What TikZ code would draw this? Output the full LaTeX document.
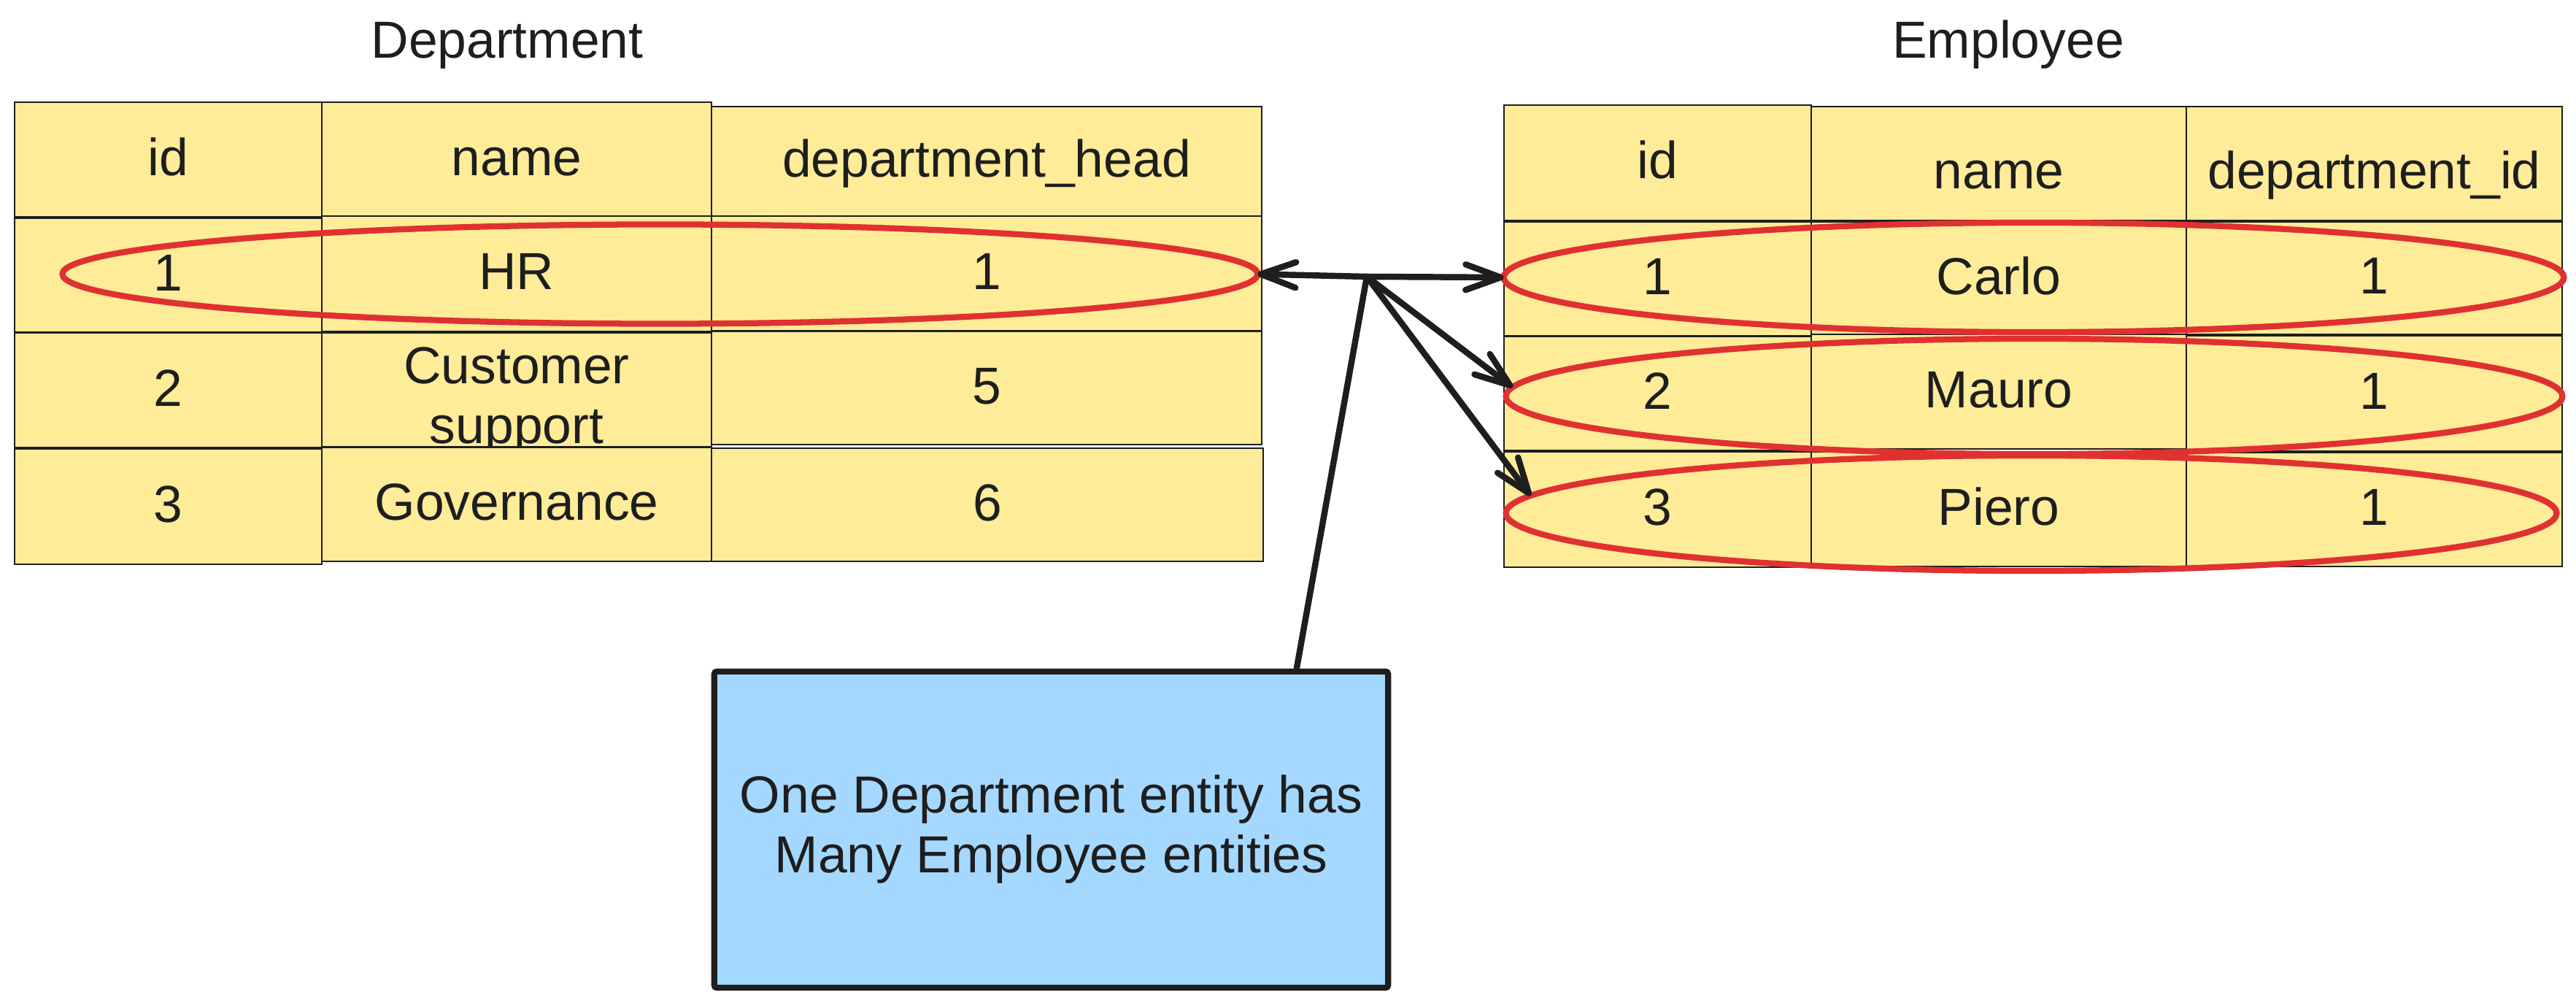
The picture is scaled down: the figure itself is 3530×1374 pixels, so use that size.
\documentclass[tikz,border=0pt]{standalone}
\usepackage{fontspec}
\setmainfont{Liberation Sans}
\usetikzlibrary{shapes.geometric,arrows.meta,calc}
\definecolor{ink}{HTML}{1E1E1E}
\definecolor{cellyellow}{HTML}{FFEC99}
\definecolor{noteblue}{HTML}{A5D8FF}
\definecolor{hlred}{HTML}{E03131}
\newcommand\tcell[7][]{\node[cellbox,#1,minimum width={(#5-#3)*0.01cm},minimum height={(#6-#4)*0.01cm}] (#2) at ({(#3+#5)/2},{(#4+#6)/2}) {#7};}
\tikzset{
  txtfont/.style={font=\fontsize{20.3}{23.3}\selectfont, text=ink},
  cellbox/.style={draw=ink, line width=0.65pt, fill=cellyellow, inner sep=0pt, outer sep=0pt,
    txtfont, text height=16.2pt, text depth=3.8pt},
  lowtext/.style={text height=23.6pt},
  titletext/.style={txtfont, inner sep=0pt, text height=16.2pt, text depth=3.8pt},
  hl/.style={ellipse, draw=hlred, line width=2.35pt, inner sep=0pt, outer sep=0pt},
  conn/.style={draw=ink, line width=2.4pt, line cap=round, -{Straight Barb[length=4.8mm, width=3.5mm, round]}},
  plainline/.style={draw=ink, line width=2.4pt, line cap=round},
  notebox/.style={draw=ink, line width=2.3pt, rounded corners=1pt, fill=noteblue, inner sep=0pt, align=center, txtfont}
}
\begin{document}
\begin{tikzpicture}[x=0.01cm, y=-0.01cm]
\fill[white] (0,0) rectangle (3530,1374);
\useasboundingbox (0,0) rectangle (3530,1374);

% titles
\node[titletext] (tdep) at (695,58) {Department};
\node[titletext] (temp) at (2752,58) {Employee};

% Department table
\tcell{Lh1}{20}{140}{441}{297}{id}
\tcell{Lh2}{441}{140}{975}{297}{name}
\tcell{Lh3}{975}{146}{1729}{296}{department\_head}
\tcell{L11}{20}{299}{441}{455}{1}
\tcell{L12}{441}{296}{975}{454}{HR}
\tcell{L13}{975}{296}{1729}{453}{1}
\tcell{L21}{20}{456}{441}{613}{2}
\tcell{L22}{441}{456}{975}{612}{}
\tcell{L23}{975}{454}{1729}{609}{5}
\node[txtfont, align=center, inner sep=0pt] (cs) at (708,549) {Customer\\support};
\tcell{L31}{20}{615}{441}{773}{3}
\tcell{L32}{441}{613}{975}{769}{Governance}
\tcell{L33}{975}{614}{1731}{769}{6}

% Employee table
\tcell{Rh1}{2061}{144}{2482}{302}{id}
\tcell[lowtext]{Rh2}{2482}{146}{2996}{302}{name}
\tcell[lowtext]{Rh3}{2996}{146}{3511}{302}{department\_id}
\tcell{R11}{2061}{304}{2482}{460}{1}
\tcell{R12}{2482}{304}{2996}{460}{Carlo}
\tcell{R13}{2996}{304}{3511}{458}{1}
\tcell{R21}{2061}{461}{2482}{617}{2}
\tcell{R22}{2482}{458}{2996}{615}{Mauro}
\tcell{R23}{2996}{460}{3511}{618}{1}
\tcell{R31}{2061}{619}{2482}{777}{3}
\tcell{R32}{2482}{619}{2996}{776}{Piero}
\tcell{R33}{2996}{620}{3511}{776}{1}

% highlight ellipses
\node[hl, minimum width=16.37cm, minimum height=1.36cm] (le) at (904.5,375.5) {};
\node[hl, minimum width=14.52cm, minimum height=1.50cm] (e1) at (2787,380) {};
\node[hl, minimum width=14.47cm, minimum height=1.58cm] (e2) at (2787.5,543) {};
\node[hl, minimum width=14.39cm, minimum height=1.58cm] (e3) at (2783.5,703) {};

% note
\node[notebox, minimum width=9.23cm, minimum height=4.33cm] (note) at (1440.5,1136.5)
  {One Department entity has\\Many Employee entities};

% connectors
\coordinate (hub) at (1873,379);
\draw[conn] (hub) -- (le.-0.25);
\draw[conn] (hub) -- (e1.west);
\draw[conn] (hub) -- (e2.179.4);
\draw[conn] (hub) -- (e3.178.5);
\draw[plainline] (hub) -- ($(note.north west)!0.861!(note.north east)$);
\end{tikzpicture}
\end{document}
